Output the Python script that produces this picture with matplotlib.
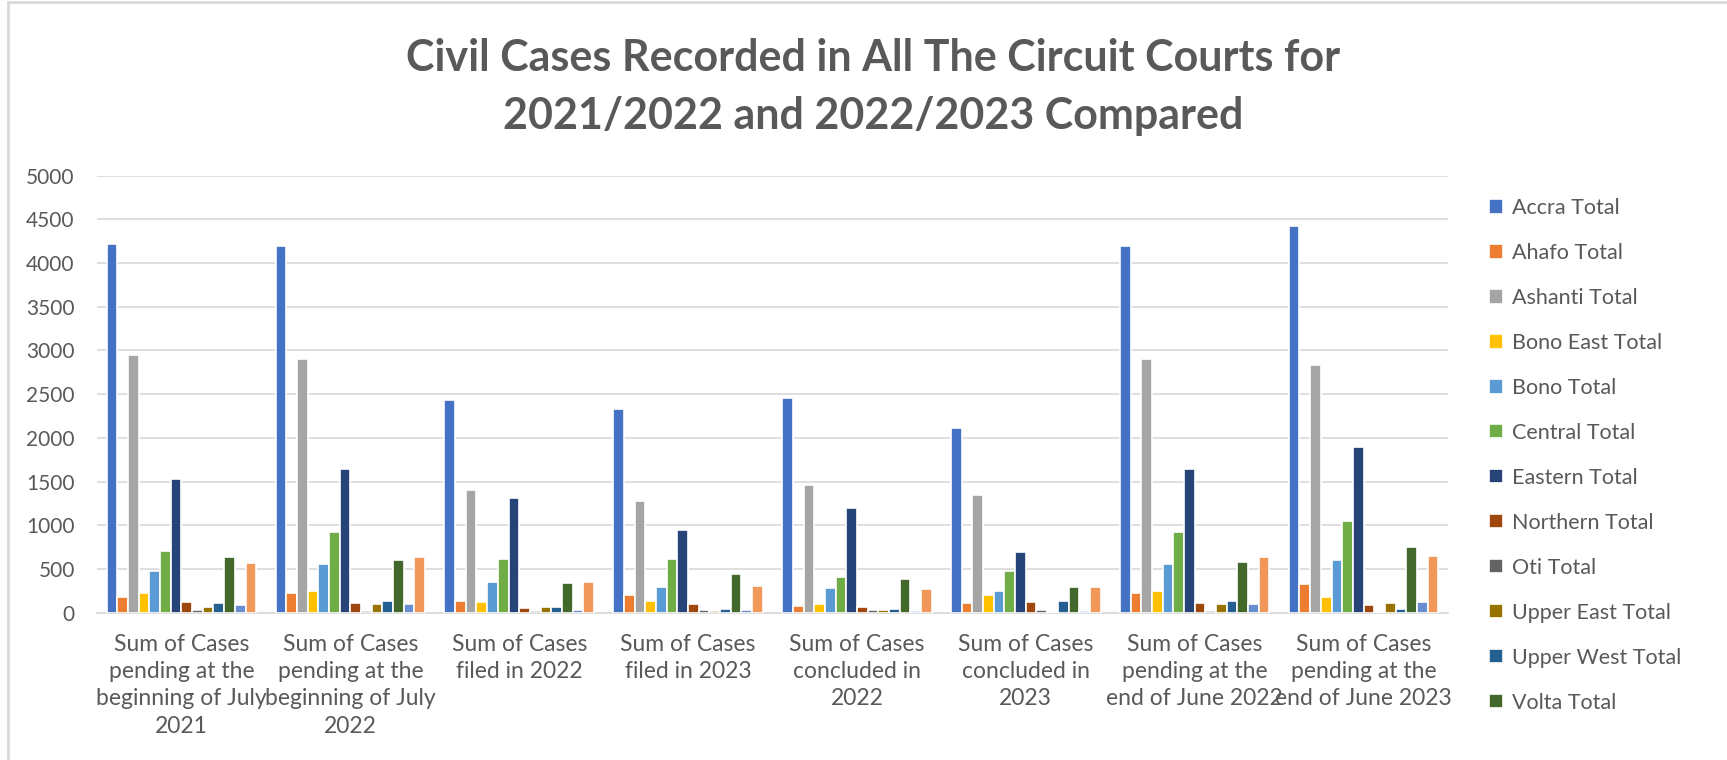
import matplotlib
matplotlib.use("Agg")
import matplotlib.pyplot as plt
import numpy as np
from matplotlib.lines import Line2D

plt.rcParams['font.family'] = ['Lato', 'DejaVu Sans']

categories = [
    "Sum of Cases\npending at the\nbeginning of July\n2021",
    "Sum of Cases\npending at the\nbeginning of July\n2022",
    "Sum of Cases\nfiled in 2022",
    "Sum of Cases\nfiled in 2023",
    "Sum of Cases\nconcluded in\n2022",
    "Sum of Cases\nconcluded in\n2023",
    "Sum of Cases\npending at the\nend of June 2022",
    "Sum of Cases\npending at the\nend of June 2023",
]

accra        = [4218, 4195, 2437, 2334, 2460, 2113, 4199, 4420]
ahafo        = [175, 229, 133, 202, 80, 107, 229, 328]
ashanti      = [2952, 2906, 1407, 1274, 1461, 1346, 2906, 2830]
bono_east    = [221, 244, 122, 133, 103, 198, 244, 179]
bono         = [481, 557, 351, 294, 282, 248, 557, 606]
central      = [709, 919, 614, 610, 412, 473, 919, 1053]
eastern      = [1526, 1640, 1316, 946, 1198, 690, 1640, 1896]
northern     = [118, 107, 57, 99, 61, 122, 111, 88]
oti          = [30, 19, 23, 30, 30, 34, 19, 8]
upper_east   = [65, 103, 65, 15, 30, 8, 103, 107]
upper_west   = [114, 133, 61, 46, 38, 133, 133, 42]
volta        = [633, 599, 336, 439, 385, 294, 584, 748]
western_north = [88, 103, 30, 30, 15, 15, 103, 122]
western      = [564, 637, 347, 305, 271, 294, 637, 648]

series_names = ["Accra Total", "Ahafo Total", "Ashanti Total", "Bono East Total",
                "Bono Total", "Central Total", "Eastern Total", "Northern Total",
                "Oti Total", "Upper East Total", "Upper West Total", "Volta Total",
                "Western North Total", "Western Total"]
series_values = [accra, ahafo, ashanti, bono_east, bono, central, eastern, northern,
                 oti, upper_east, upper_west, volta, western_north, western]
colors = ["#4472C4", "#ED7D31", "#A5A5A5", "#FFC000", "#5B9BD5", "#70AD47",
          "#264478", "#9E480E", "#636363", "#997300", "#255E91", "#43682B",
          "#698ED0", "#F1975A"]
yticks = [0, 500, 1000, 1500, 2000, 2500, 3000, 3500, 4000, 4500, 5000]

txt = "#595959"
grid = "#D9D9D9"

fig = plt.figure(figsize=(17.27, 7.6), dpi=100)
ax = fig.add_axes([97/1727, 1-612.7/760, (1448-97)/1727, (612.7-175.7)/760])

n = len(series_values)
group_w = 0.886
slot = group_w / n
x = np.arange(len(categories))
handles = []
for i, (name, vals, c) in enumerate(zip(series_names, series_values, colors)):
    off = -group_w/2 + slot*(i + 0.5)
    b = ax.bar(x + off, vals, width=slot, color=c, edgecolor='white',
               linewidth=1.2, label=name, zorder=3)
    handles.append(b)

ax.set_xlim(-0.5, len(categories) - 0.5)
ax.set_ylim(0, 5000)
ax.set_yticks(yticks)
ax.set_xticks(x)
ax.set_xticklabels(categories, fontsize=16.5, color=txt, linespacing=1.38)
ax.tick_params(axis='y', length=0, pad=16, labelsize=15, labelcolor=txt)
ax.tick_params(axis='x', length=0, pad=15)
for s in ['top', 'right', 'left']:
    ax.spines[s].set_visible(False)
ax.spines['bottom'].set_color(grid)
ax.spines['bottom'].set_linewidth(1.2)
ax.yaxis.grid(True, color=grid, linewidth=1.2, zorder=0)
ax.set_axisbelow(True)

fig.text(873/1727, 1-87/760,
         "Civil Cases Recorded in All The Circuit Courts for\n2021/2022 and 2022/2023 Compared",
         ha='center', va='center', fontsize=31, fontweight='bold', color=txt,
         linespacing=1.55)

leg = fig.legend(handles[:12], series_names[:12], loc='upper left',
                 bbox_to_anchor=(1489/1727, 1-198/760), frameon=False,
                 fontsize=15.5, labelcolor=txt, handlelength=0.65, handleheight=0.65,
                 handletextpad=0.4, labelspacing=1.16, borderaxespad=0, borderpad=0)

# chart border
fig.add_artist(Line2D([8/1727, 1], [1-2/760, 1-2/760], color=grid, lw=2,
                      transform=fig.transFigure))
fig.add_artist(Line2D([8/1727, 8/1727], [0, 1-2/760], color=grid, lw=2,
                      transform=fig.transFigure))

fig.savefig("out.png", dpi=100, facecolor='white')
